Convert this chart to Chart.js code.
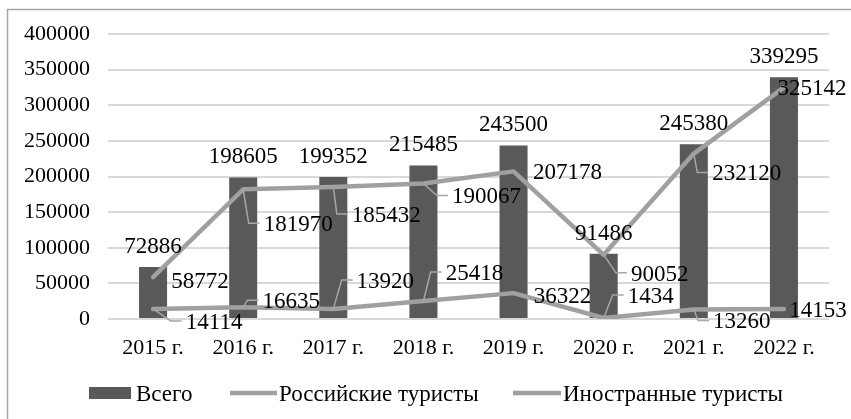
<!DOCTYPE html>
<html><head><meta charset="utf-8">
<script src="https://cdn.jsdelivr.net/npm/chart.js@4"></script>
<style>html,body{margin:0;padding:0;background:#fff}canvas{display:block}</style>
</head><body>
<canvas id="c" width="851" height="419"></canvas>
<script>
const categories = ['2015 г.', '2016 г.', '2017 г.', '2018 г.', '2019 г.', '2020 г.', '2021 г.', '2022 г.'];
const totalValues = [72886, 198605, 199352, 215485, 243500, 91486, 245380, 339295];
const russianValues = [58772, 181970, 185432, 190067, 207178, 90052, 232120, 325142];
const foreignValues = [14114, 16635, 13920, 25418, 36322, 1434, 13260, 14153];
const yTicks = [0, 50000, 100000, 150000, 200000, 250000, 300000, 350000, 400000];
const seriesNames = ['Всего', 'Российские туристы', 'Иностранные туристы'];

// label placement: offset of label centre from the point [dx, dy, leader]
const totalLabelPlace = [0, -22];
const russianLabelPlace = [[47,3,0],[55,34,1],[53,27,1],[63,12,1],[54,0,0],[56,18,1],[53,19,1],[28,0,0]];
const foreignLabelPlace = [[61,12,1],[48,-7,1],[52,-29,1],[51,-29,1],[49,2,0],[47,-23,1],[48,11,1],[34,0,0]];

const FONT = '"Liberation Serif", "Times New Roman", serif';
const BAR = '#595959', LINE = '#a0a0a0', GRID = '#d9d9d9', LEAD = '#a6a6a6';

const labelPlugin = {
  id: 'labels',
  beforeDraw(chart) {
    const ctx = chart.ctx;
    ctx.save();
    ctx.strokeStyle = '#a6a6a6';
    ctx.lineWidth = 1.5;
    ctx.strokeRect(7.5, 9.5, 900, 500);
    ctx.restore();
  },
  afterDatasetsDraw(chart) {
    const ctx = chart.ctx;
    const size = 23;
    ctx.save();
    ctx.font = size + 'px ' + FONT;
    ctx.fillStyle = '#000';
    ctx.textAlign = 'center';
    ctx.textBaseline = 'alphabetic';
    const half = size * 0.338;
    chart.getDatasetMeta(2).data.forEach((el, i) => {
      const t = String(totalValues[i]);
      ctx.fillText(t, el.x + totalLabelPlace[0], el.y + totalLabelPlace[1] + half);
    });
    const drawLine = (meta, vals, place) => {
      meta.data.forEach((el, i) => {
        const t = String(vals[i]);
        const [dx, dy, lead] = place[i];
        const cx = el.x + dx, cy = el.y + dy;
        const w = ctx.measureText(t).width;
        const left = cx - w / 2;
        if (lead) {
          const cornerX = Math.max(el.x + 2, left - 15);
          ctx.save();
          ctx.strokeStyle = LEAD;
          ctx.lineWidth = 1.5;
          ctx.beginPath();
          ctx.moveTo(el.x, el.y);
          ctx.lineTo(cornerX, cy);
          ctx.lineTo(left - 4, cy);
          ctx.stroke();
          ctx.restore();
        }
        ctx.fillText(t, cx, cy + half);
      });
    };
    drawLine(chart.getDatasetMeta(0), russianValues, russianLabelPlace);
    drawLine(chart.getDatasetMeta(1), foreignValues, foreignLabelPlace);
    ctx.restore();
  },
  afterDraw(chart) {
    const ctx = chart.ctx;
    ctx.save();
    ctx.font = '23px ' + FONT;
    ctx.textBaseline = 'alphabetic';
    const cy = 393, base = 401;
    ctx.fillStyle = BAR;
    ctx.fillRect(89, 387, 42, 12);
    ctx.fillStyle = '#000';
    ctx.fillText(seriesNames[0], 136, base);
    ctx.strokeStyle = LINE;
    ctx.lineWidth = 4.5;
    ctx.beginPath(); ctx.moveTo(230, cy); ctx.lineTo(277, cy); ctx.stroke();
    ctx.fillText(seriesNames[1], 279, base);
    ctx.beginPath(); ctx.moveTo(513, cy); ctx.lineTo(561, cy); ctx.stroke();
    ctx.fillText(seriesNames[2], 563, base);
    ctx.restore();
  }
};

new Chart(document.getElementById('c'), {
  data: {
    labels: categories,
    datasets: [
      { type: 'line', label: seriesNames[1], data: russianValues, borderColor: LINE, borderWidth: 4.5,
        pointRadius: 0, tension: 0, borderJoinStyle: 'round', borderCapStyle: 'round', order: 1 },
      { type: 'line', label: seriesNames[2], data: foreignValues, borderColor: LINE, borderWidth: 4.5,
        pointRadius: 0, tension: 0, borderJoinStyle: 'round', borderCapStyle: 'round', order: 1 },
      { type: 'bar', label: seriesNames[0], data: totalValues, backgroundColor: BAR,
        categoryPercentage: 1, barPercentage: 0.311, order: 2 }
    ]
  },
  options: {
    responsive: false,
    animation: false,
    layout: { padding: { top: 34, right: 22, left: 0, bottom: 0 } },
    plugins: { legend: { display: false }, tooltip: { enabled: false } },
    scales: {
      x: {
        offset: true,
        grid: { display: false, drawTicks: false },
        border: { display: false },
        ticks: { font: { family: FONT, size: 22 }, color: '#000', padding: 16, maxRotation: 0, autoSkip: false },
        afterFit: s => { s.height = 100; }
      },
      y: {
        min: 0, max: 400000,
        grid: { color: GRID, lineWidth: 2, drawTicks: false },
        border: { display: false },
        ticks: { font: { family: FONT, size: 22 }, color: '#000', padding: 18, callback: v => String(v) },
        afterBuildTicks: s => { s.ticks = yTicks.map(v => ({ value: v })); },
        afterFit: s => { s.width = 108; }
      }
    }
  },
  plugins: [labelPlugin]
});
</script>
</body></html>
